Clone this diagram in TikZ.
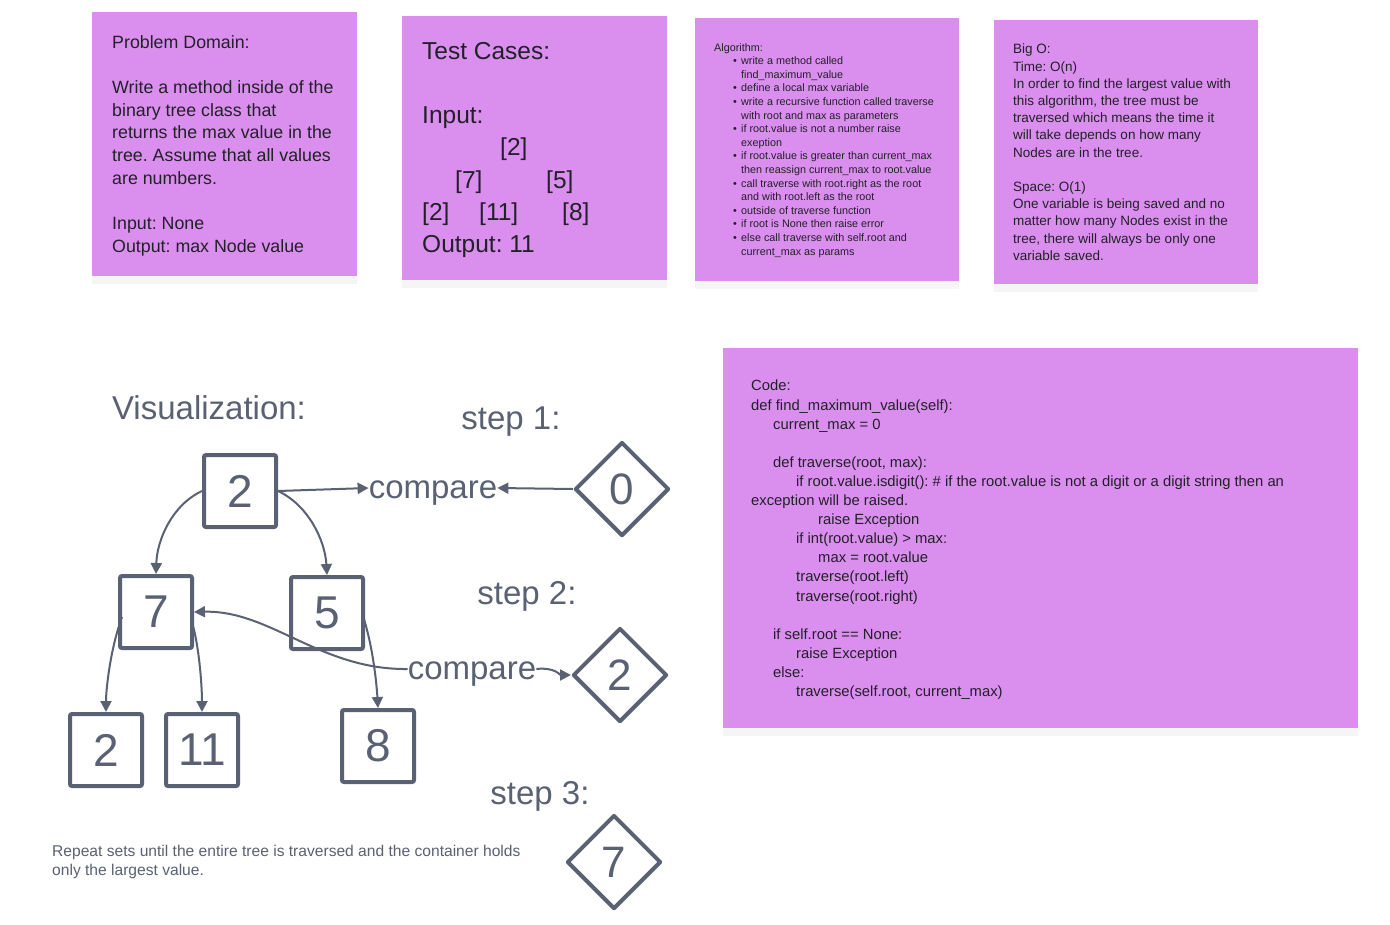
\documentclass[tikz,border=0pt]{standalone}
\usepackage{fontspec}
\setmainfont{Liberation Sans}
\usetikzlibrary{arrows.meta,shapes.geometric,shadows,calc}

\definecolor{stickyfill}{RGB}{218,143,238}
\definecolor{inkgrey}{RGB}{90,97,115}
\definecolor{notetext}{RGB}{34,32,40}

\newcommand{\algbullet}{\hspace*{19pt}\makebox[8pt][l]{\textbullet}}
\newcommand{\algcont}{\hspace*{27pt}}
\frenchspacing

\tikzset{
  sticky/.style={fill=stickyfill, anchor=north west, inner sep=0pt,
    drop shadow={shadow xshift=0pt, shadow yshift=-8pt, opacity=0.08}},
  notebody/.style={anchor=north west, inner sep=0pt, align=left, text=notetext},
  treebox/.style={draw=inkgrey, line width=4pt, rounded corners=2pt, minimum size=72pt,
    inner sep=0pt, text=inkgrey, font=\fontsize{46}{46}\selectfont},
  holder/.style={draw=inkgrey, line width=4pt, diamond, aspect=1, minimum size=94pt,
    inner sep=0pt, line join=round, text=inkgrey, font=\fontsize{44}{44}\selectfont},
  link/.style={draw=inkgrey, line width=2pt, -{Triangle[length=11pt,width=11pt]}},
  biglabel/.style={inner sep=0pt, text=inkgrey, font=\fontsize{33}{33}\selectfont}
}

\begin{document}
\begin{tikzpicture}[x=1pt, y=-1pt]
\useasboundingbox (0,0) rectangle (1390,924);
\fill[white] (0,0) rectangle (1390,924);

% sticky notes
\node[sticky, minimum width=265pt, minimum height=264pt] (domain) at (92,12) {};
\node[sticky, minimum width=265pt, minimum height=264pt] (cases) at (402,16) {};
\node[sticky, minimum width=264pt, minimum height=263pt] (algo) at (695,18) {};
\node[sticky, minimum width=264pt, minimum height=264pt] (bigo) at (994,20) {};
\node[sticky, minimum width=635pt, minimum height=380pt] (code) at (723,348) {};

% note texts
\node[notebody, font=\fontsize{17.8}{22.7}\selectfont] (domaintext) at (112,35)
  {Problem Domain:\\\mbox{}\\
   Write a method inside of the\\
   binary tree class that\\
   returns the max value in the\\
   tree. Assume that all values\\
   are numbers.\\\mbox{}\\
   Input: None\\
   Output: max Node value};

\node[notebody, font=\fontsize{24.5}{32.2}\selectfont] (casestext) at (422,42)
  {Test Cases:\\\mbox{}\\
   Input:\\
   \hspace*{78pt}[2]\\
   \hspace*{33pt}\makebox[91pt][l]{[7]}[5]\\
   \makebox[57pt][l]{[2]}\makebox[83pt][l]{[11]}[8]\\
   Output: 11};

\node[notebody, font=\fontsize{10.8}{13.6}\selectfont] (algotext) at (714,43)
  {Algorithm:\\
   \algbullet write a method called\\
   \algcont find\_maximum\_value\\
   \algbullet define a local max variable\\
   \algbullet write a recursive function called traverse\\
   \algcont with root and max as parameters\\
   \algbullet if root.value is not a number raise\\
   \algcont exeption\\
   \algbullet if root.value is greater than current\_max\\
   \algcont then reassign current\_max to root.value\\
   \algbullet call traverse with root.right as the root\\
   \algcont and with root.left as the root\\
   \algbullet outside of traverse function\\
   \algbullet if root is None then raise error\\
   \algbullet else call traverse with self.root and\\
   \algcont current\_max as params};

\node[notebody, font=\fontsize{13.5}{17.2}\selectfont] (bigotext) at (1013,44)
  {Big O:\\
   Time: O(n)\\
   In order to find the largest value with\\
   this algorithm, the tree must be\\
   traversed which means the time it\\
   will take depends on how many\\
   Nodes are in the tree.\\\mbox{}\\
   Space: O(1)\\
   One variable is being saved and no\\
   matter how many Nodes exist in the\\
   tree, there will always be only one\\
   variable saved.};

\node[notebody, font=\fontsize{14.8}{19.1}\selectfont] (codetext) at (751,380)
  {Code:\\
   def find\_maximum\_value(self):\\
   \hspace*{22pt}current\_max = 0\\\mbox{}\\
   \hspace*{22pt}def traverse(root, max):\\
   \hspace*{45pt}if root.value.isdigit(): \# if the root.value is not a digit or a digit string then an\\
   exception will be raised.\\
   \hspace*{67pt}raise Exception\\
   \hspace*{45pt}if int(root.value) > max:\\
   \hspace*{67pt}max = root.value\\
   \hspace*{45pt}traverse(root.left)\\
   \hspace*{45pt}traverse(root.right)\\\mbox{}\\
   \hspace*{22pt}if self.root == None:\\
   \hspace*{45pt}raise Exception\\
   \hspace*{22pt}else:\\
   \hspace*{45pt}traverse(self.root, current\_max)};

% visualization
\node[biglabel] (vislabel) at (209,408) {Visualization:};
\node[biglabel] (stepa) at (511,422) {step 1:};
\node[biglabel] (stepb) at (527,596) {step 2:};
\node[biglabel] (stepc) at (540,796) {step 3:};

\node[treebox] (root) at (240,491) {2};
\node[treebox] (nseven) at (156,612) {7};
\node[treebox] (nfive) at (327,613) {5};
\node[treebox] (ntwo) at (106,750) {2};
\node[treebox] (neleven) at (202,750) {11};
\node[treebox] (neight) at (378,746) {8};

\node[holder] (hzero) at (622,489) {0};
\node[holder] (htwo) at (620,675) {2};
\node[holder] (hseven) at (614,862) {7};

\node[biglabel] (cmpa) at (433,493) {compare};
\node[biglabel] (cmpb) at (472,674) {compare};

% tree edges
\draw[link] (root.west) .. controls (172,505) and (157,540) .. (nseven.north);
\draw[link] (root.east) .. controls (308,505) and (325,540) .. (nfive.north);
\draw[link] (122,617) .. controls (110,650) and (106,690) .. (ntwo.north);
\draw[link] (192,622) .. controls (200,650) and (202,690) .. (neleven.north);
\draw[link] (363,616) .. controls (374,650) and (377,690) .. (neight.north);

% comparisons
\draw[link] (root.east) -- ($(cmpa.west)+(0,-5)$);
\draw[link] (hzero.west) -- ($(cmpa.east)+(0,-5)$);
\draw[link] ($(cmpb.west)+(0,-5)$) .. controls (320,670) and (270,610) .. (nseven.east);
\draw[link] ($(cmpb.east)+(0,-5)$) .. controls (555,667) and (560,675) .. (htwo.west);

\node[anchor=north west, inner sep=0pt, align=left, text=inkgrey,
  font=\fontsize{15.6}{19}\selectfont] (repeatnote) at (52,845)
  {Repeat sets until the entire tree is traversed and the container holds\\
   only the largest value.};
\end{tikzpicture}
\end{document}
